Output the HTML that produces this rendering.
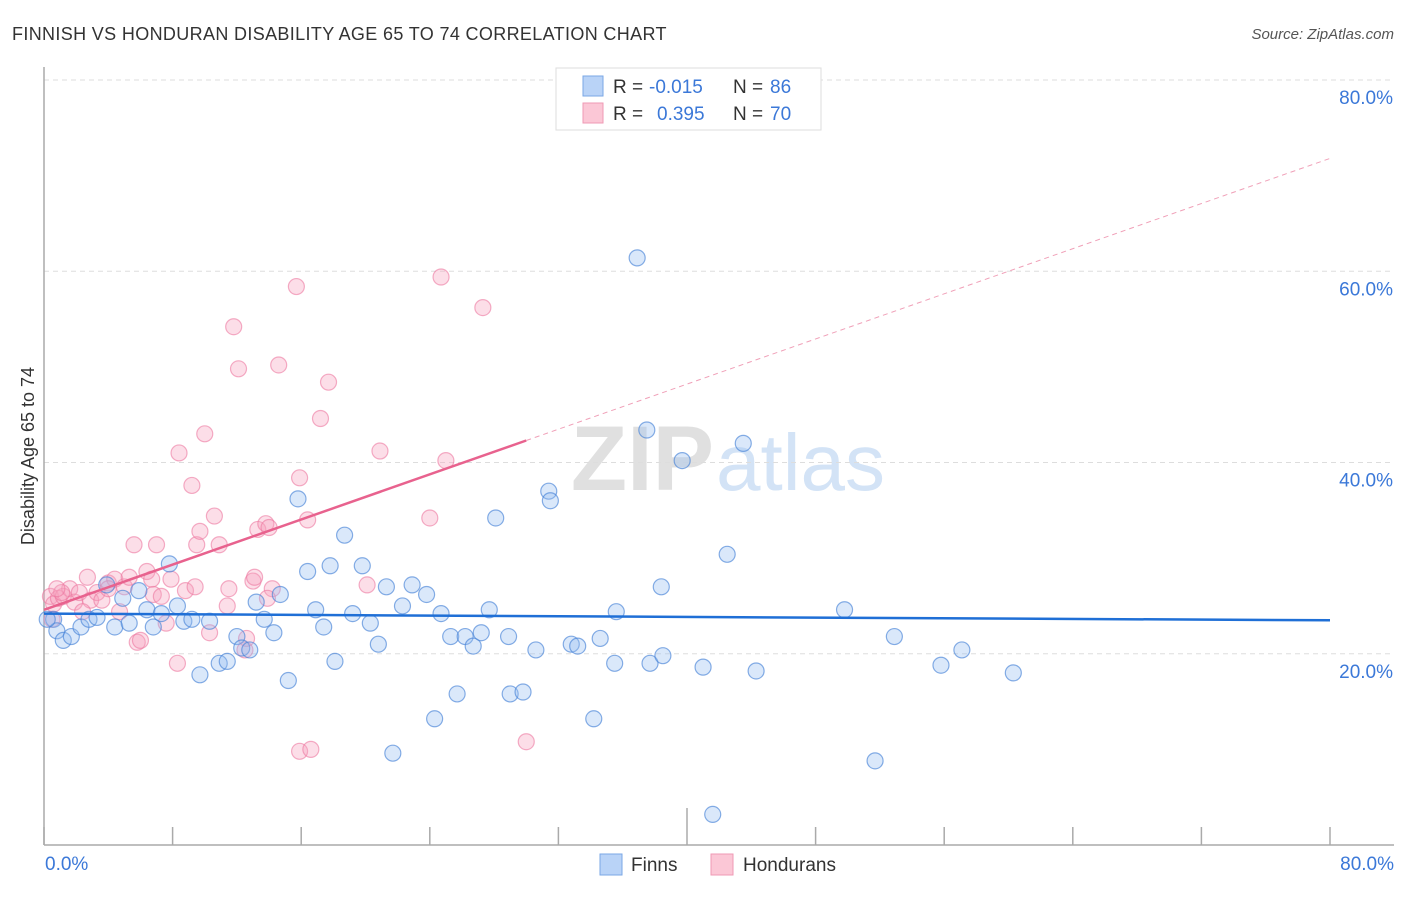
<!DOCTYPE html>
<html><head><meta charset="utf-8"><style>
body{margin:0;background:#fff;font-family:"Liberation Sans",sans-serif}
svg text{font-family:"Liberation Sans",sans-serif}
</style></head><body>
<svg width="1406" height="892" xmlns="http://www.w3.org/2000/svg">
<text x="12" y="40" font-size="18" letter-spacing="0.35" fill="#333">FINNISH VS HONDURAN DISABILITY AGE 65 TO 74 CORRELATION CHART</text>
<text x="1394" y="39" font-size="15" fill="#555" text-anchor="end" font-style="italic">Source: ZipAtlas.com</text>
<text x="714" y="490" font-size="92" fill="#e0e0e0" text-anchor="end" font-family="Liberation Serif" font-weight="bold">ZIP</text>
<text x="716" y="490" font-size="80" fill="#d3e3f6">atlas</text>
<g id="grid"></g>
<g id="axes"></g>
<g id="points"></g>
<g id="trends"></g>
<text x="34" y="456" font-size="18" fill="#333" text-anchor="middle" transform="rotate(-90 34 456)">Disability Age 65 to 74</text>
<text x="45" y="870" font-size="19" fill="#3b78d8">0.0%</text>
<text x="1394" y="870" font-size="19" fill="#3b78d8" text-anchor="end">80.0%</text>
<g>
<rect x="556" y="68" width="265" height="62" fill="#fff" stroke="#ddd"/>
<rect x="583" y="76" width="20" height="20" fill="#b9d3f7" stroke="#7aa7e6"/>
<rect x="583" y="103" width="20" height="20" fill="#fbc7d6" stroke="#ef9ab4"/>
<text x="613" y="93" font-size="19" fill="#333">R = </text><text x="649" y="93" font-size="19" fill="#3b78d8">-0.015</text>
<text x="733" y="93" font-size="19" fill="#333">N = </text><text x="770" y="93" font-size="19" fill="#3b78d8">86</text>
<text x="613" y="120" font-size="19" fill="#333">R = </text><text x="657" y="120" font-size="19" fill="#3b78d8">0.395</text>
<text x="733" y="120" font-size="19" fill="#333">N = </text><text x="770" y="120" font-size="19" fill="#3b78d8">70</text>
</g>
<g><rect x="600" y="854" width="22" height="21" fill="#b9d3f7" stroke="#7aa7e6"/><text x="631" y="871" font-size="19" fill="#333">Finns</text></g>
<g><rect x="711" y="854" width="22" height="21" fill="#fbc7d6" stroke="#ef9ab4"/><text x="743" y="871" font-size="19" fill="#333">Hondurans</text></g>
</svg>
<script>
const yTicks=[20,40,60,80];
const xTicks=[0,8,16,24,32,40,48,56,64,72,80];
const finnX=[0.6,0.8,1.2,1.7,2.3,2.8,3.3,3.9,4.4,4.9,5.3,5.9,6.4,6.8,7.3,7.8,8.3,8.7,9.2,9.7,10.3,10.9,11.4,12.0,12.3,12.8,13.2,13.7,14.3,14.7,15.2,15.8,16.4,16.9,17.4,17.8,18.1,18.7,19.2,19.8,20.3,20.8,21.3,21.7,22.3,22.9,23.8,24.3,24.7,25.3,25.7,26.2,26.7,27.2,27.7,28.1,28.9,29.0,29.8,30.6,31.4,31.5,32.8,33.2,34.2,34.6,35.5,35.6,36.9,37.5,37.7,38.4,38.5,39.7,41.0,41.6,42.5,43.5,44.3,49.8,51.7,52.9,55.8,57.1,60.3,0.2];
const finnY=[23.6,22.4,21.4,21.8,22.8,23.6,23.8,27.2,22.8,25.8,23.2,26.6,24.6,22.8,24.2,29.4,25.0,23.4,23.6,17.8,23.4,19.0,19.2,21.8,20.6,20.4,25.4,23.6,22.2,26.2,17.2,36.2,28.6,24.6,22.8,29.2,19.2,32.4,24.2,29.2,23.2,21.0,27.0,9.6,25.0,27.2,26.2,13.2,24.2,21.8,15.8,21.8,20.8,22.2,24.6,34.2,21.8,15.8,16.0,20.4,37.0,36.0,21.0,20.8,13.2,21.6,19.0,24.4,61.4,43.4,19.0,27.0,19.8,40.2,18.6,3.2,30.4,42.0,18.2,24.6,8.8,21.8,18.8,20.4,18.0,23.6];
const hondX=[0.4,0.6,0.9,1.2,1.6,1.9,2.2,2.7,2.9,3.3,3.6,4.0,4.4,4.7,5.0,5.3,5.6,5.8,6.0,6.4,6.7,6.8,7.0,7.3,7.6,7.9,8.3,8.4,8.8,9.2,9.5,9.7,10.0,10.3,10.6,10.9,11.4,11.5,11.8,12.1,12.5,12.6,13.0,13.1,13.3,13.8,14.0,14.2,14.6,15.7,15.9,15.9,16.4,16.6,17.2,17.7,20.1,20.9,24.0,24.7,25.0,27.3,30.0,0.5,1.1,2.4,4.0,9.4,0.8,13.9];
const hondY=[26.0,25.2,25.8,26.0,26.8,25.4,26.4,28.0,25.6,26.4,25.6,27.4,27.8,24.4,27.0,28.0,31.4,21.2,21.4,28.6,27.8,26.2,31.4,26.0,23.2,27.8,19.0,41.0,26.6,37.6,31.4,32.8,43.0,22.2,34.4,31.4,25.0,26.8,54.2,49.8,20.4,21.6,27.6,28.0,33.0,33.6,33.2,26.8,50.2,58.4,38.4,9.8,34.0,10.0,44.6,48.4,27.2,41.2,34.2,59.4,40.2,56.2,10.8,23.6,26.4,24.4,26.8,27.0,26.8,25.8];
const finnTrend=[24.2,23.5];
const hondTrend=[24.6,71.8];
const NS='http://www.w3.org/2000/svg';
const X=v=>44+v*(1330-44)/80;
const Y=v=>845-v*(845-80)/80;
function mk(t,a,p){const e=document.createElementNS(NS,t);for(const k in a)e.setAttribute(k,a[k]);p.appendChild(e);return e;}
const grid=document.getElementById('grid'),axes=document.getElementById('axes'),pts=document.getElementById('points'),tr=document.getElementById('trends');
yTicks.forEach(v=>{
 const l=mk('line',{x1:44,x2:1394,y1:Y(v),y2:Y(v),stroke:'#ddd','stroke-dasharray':'5,4'},grid);
 
 
 const t=mk('text',{x:1393,y:Y(v)+24,'font-size':19,fill:'#3b78d8','text-anchor':'end'},grid);t.textContent=v.toFixed(1)+'%';
 
 
});
const ya=mk('line',{x1:44,x2:44,y1:67,y2:845,stroke:'#aaa','stroke-width':1.5},axes);


const xa=mk('line',{x1:44,x2:1394,y1:845,y2:845,stroke:'#aaa','stroke-width':1.5},axes);


xTicks.forEach(v=>{
 const tk=mk('line',{x1:X(v),x2:X(v),y1:v===40?808:827,y2:845,stroke:'#aaa','stroke-width':1.5},axes);
 
 
});
hondX.forEach((x,i)=>{
 const c=mk('circle',{cx:X(x),cy:Y(hondY[i]),r:8,fill:'rgba(246,160,188,0.35)',stroke:'rgba(236,120,160,0.6)','stroke-width':1.2},pts);
 
 
});
finnX.forEach((x,i)=>{
 const c=mk('circle',{cx:X(x),cy:Y(finnY[i]),r:8,fill:'rgba(150,190,240,0.35)',stroke:'rgba(70,130,215,0.65)','stroke-width':1.2},pts);
 
 
});
const fl=mk('line',{x1:X(0),y1:Y(finnTrend[0]),x2:X(80),y2:Y(finnTrend[1]),stroke:'#1f6fd6','stroke-width':2.5},tr);


const hy=x=>hondTrend[0]+(hondTrend[1]-hondTrend[0])*x/80;
const hs=mk('line',{x1:X(0),y1:Y(hy(0)),x2:X(30),y2:Y(hy(30)),stroke:'#e8628e','stroke-width':2.5},tr);


const hd=mk('line',{x1:X(30),y1:Y(hy(30)),x2:X(80),y2:Y(hy(80)),stroke:'#f0a0b8','stroke-width':1,'stroke-dasharray':'5,4'},tr);


</script>
</body></html>
